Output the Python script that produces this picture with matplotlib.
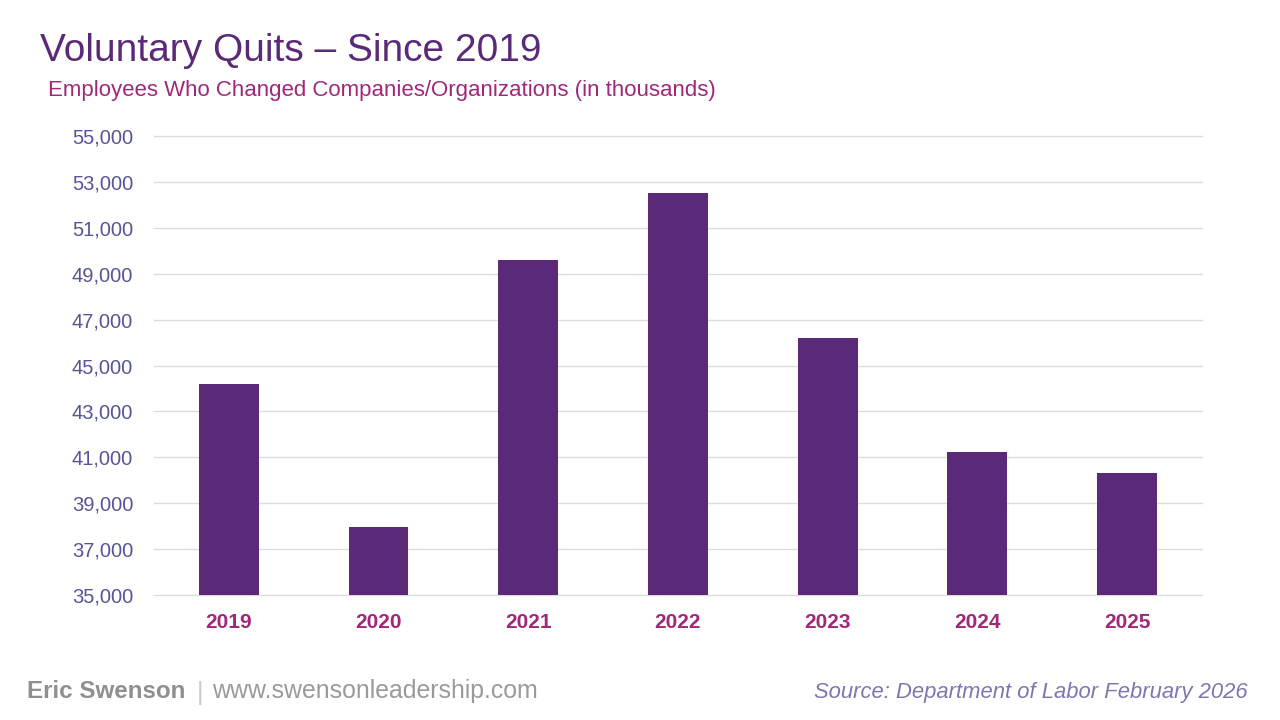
import matplotlib.pyplot as plt
from matplotlib.ticker import FuncFormatter

# Voluntary quits by year (in thousands)
years = ["2019", "2020", "2021", "2022", "2023", "2024", "2025"]
quits = [44200, 37960, 49600, 52520, 46200, 41230, 40320]
y_ticks = [35000, 37000, 39000, 41000, 43000, 45000, 47000, 49000, 51000, 53000, 55000]

plt.rcParams['font.family'] = ['Liberation Sans', 'DejaVu Sans']

fig = plt.figure(figsize=(12.8, 7.2), dpi=100)
ax = fig.add_axes([0.1203, 0.1736, 0.8187, 0.6375])

x = range(len(years))
ax.bar(x, quits, width=0.4, color="#5a2a78", zorder=3)

ax.set_xlim(-0.5, len(years) - 0.5)
ax.set_ylim(35000, 55000)
ax.set_yticks(y_ticks)
ax.yaxis.set_major_formatter(FuncFormatter(lambda v, p: f"{int(v):,}"))
ax.set_xticks(list(x))
ax.set_xticklabels(years, fontweight="bold", color="#a0287a", fontsize=15)
ax.tick_params(axis="y", colors="#55559a", labelsize=14.5, length=0, pad=15)
ax.tick_params(axis="x", length=0, pad=13)
ax.grid(axis="y", color="#dcdcdc", linewidth=1, zorder=0)
for gl in ax.get_ygridlines():
    gl.set_clip_on(False)
for s in ax.spines.values():
    s.set_visible(False)

# Titles
fig.text(0.031, 0.915, "Voluntary Quits – Since 2019", fontsize=28, color="#5a2a78",
         ha="left", va="baseline")
fig.text(0.0375, 0.867, "Employees Who Changed Companies/Organizations (in thousands)",
         fontsize=16, color="#a0287a", ha="left", va="baseline")

# Footer
fig.text(0.021, 0.030, "Eric Swenson", fontsize=17.4, fontweight="bold", color="#8f8f8f",
         ha="left", va="baseline")
fig.text(0.1535, 0.028, "|", fontsize=18, color="#c8c8c8", ha="left", va="baseline")
fig.text(0.1656, 0.030, "www.swensonleadership.com", fontsize=17.9, color="#9a9a9a",
         ha="left", va="baseline")
fig.text(0.975, 0.030, "Source: Department of Labor February 2026", fontsize=15.8,
         style="italic", color="#7a78b0", ha="right", va="baseline")

fig.savefig("out.png", dpi=100)
